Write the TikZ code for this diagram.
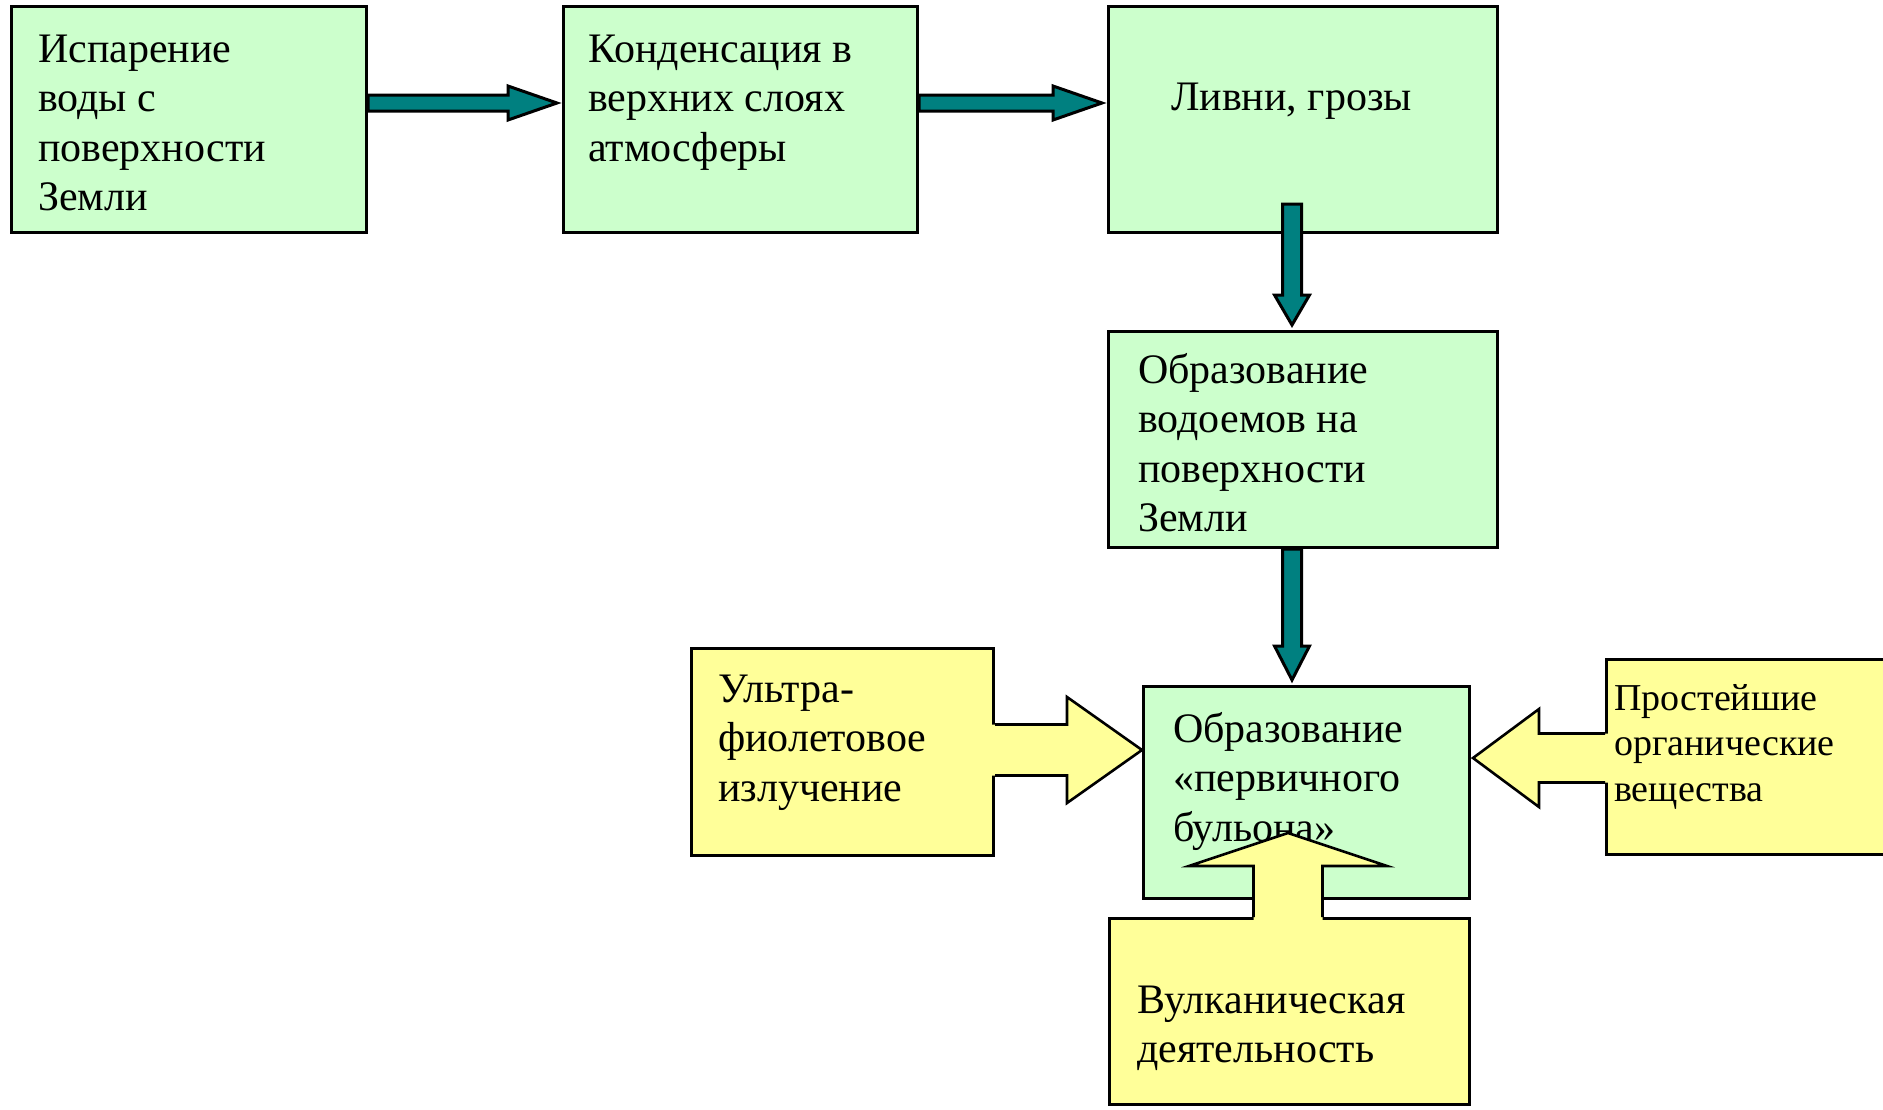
\documentclass[tikz,border=0pt]{standalone}
\usepackage{fontspec}
\setmainfont{Liberation Serif}
\usetikzlibrary{calc}
\definecolor{gfill}{HTML}{CCFFCC}
\definecolor{yfill}{HTML}{FFFF99}
\definecolor{tealc}{HTML}{008080}
\tikzset{
  gbox/.style={draw=black, line width=3pt, fill=gfill, rectangle, inner sep=0pt, anchor=north west},
  ybox/.style={draw=black, line width=3pt, fill=yfill, rectangle, inner sep=0pt, anchor=north west},
  txt/.style={inner sep=0pt, anchor=base west, align=left, font=\fontsize{42}{49.5}\selectfont},
  stxt/.style={inner sep=0pt, anchor=base west, align=left, font=\fontsize{38}{45.5}\selectfont},
  tarrow/.style={draw=black, line width=3pt, fill=tealc, line join=miter},
  yfillst/.style={fill=yfill},
  yline/.style={draw=black, line width=2.6pt, line join=miter},
}
\newcommand\tealH[2]{%
  \draw[tarrow] ($(#1)+(0,-8)$) -- ($(#2)+(-49,-8)$) -- ($(#2)+(-49,-17)$) -- (#2)
    -- ($(#2)+(-49,17)$) -- ($(#2)+(-49,8)$) -- ($(#1)+(0,8)$) -- cycle;}
\newcommand\tealV[3]{%
  \draw[tarrow] ($(#1)+(-9.5,0)$) -- ($(#2)+(-9.5,-#3)$) -- ($(#2)+(-17.5,-#3)$) -- (#2)
    -- ($(#2)+(17.5,-#3)$) -- ($(#2)+(9.5,-#3)$) -- ($(#1)+(9.5,0)$) -- cycle;}
\begin{document}
\begin{tikzpicture}[x=1pt,y=-1pt]
\useasboundingbox (0,0) rectangle (1883,1109);
\fill[white] (0,0) rectangle (1883,1109);

% green boxes
\node[gbox, minimum width=355pt, minimum height=226pt] (b1) at (10,5) {};
\node[gbox, minimum width=354pt, minimum height=226pt] (b2) at (562,5) {};
\node[gbox, minimum width=389pt, minimum height=226pt] (b3) at (1107,5) {};
\node[gbox, minimum width=389pt, minimum height=216pt] (b4) at (1107,330) {};
\node[gbox, minimum width=326pt, minimum height=212pt] (b5) at (1142,685) {};

% texts in green boxes (anchor = baseline of last line)
\node[txt] (t1) at (38,210.5) {Испарение\\воды с\\поверхности\\Земли};
\node[txt] (t2) at (588,161) {Конденсация в\\верхних слоях\\атмосферы};
\node[txt] (t3) at (1171,110) {Ливни, грозы};
\node[txt] (t4) at (1138,531.5) {Образование\\водоемов на\\поверхности\\Земли};
\node[txt] (t5) at (1173,841) {Образование\\«первичного\\бульона»};

% teal arrows
\coordinate (cx) at (1292,0);
\coordinate (a1s) at (b1.east |- 0,103);
\coordinate (a1e) at ($(b2.west |- 0,103)+(-5,0)$);
\coordinate (a2s) at (b2.east |- 0,103);
\coordinate (a2e) at ($(b3.west |- 0,103)+(-5,0)$);
\coordinate (d1s) at ($(b3.south -| cx)+(0,-30)$);
\coordinate (d1e) at ($(b4.north -| cx)+(0,-5)$);
\coordinate (d2s) at (b4.south -| cx);
\coordinate (d2e) at ($(b5.north -| cx)+(0,-5)$);
\tealH{a1s}{a1e}
\tealH{a2s}{a2e}
\tealV{d1s}{d1e}{30}
\tealV{d2s}{d2e}{34}

% yellow boxes
\node[ybox, minimum width=302pt, minimum height=207pt] (yl) at (690,647) {};
\node[ybox, minimum width=300pt, minimum height=195pt] (yr) at (1605,658) {};
\node[ybox, minimum width=360pt, minimum height=186pt] (yb) at (1108,917) {};

\node[txt] (t6) at (718,801) {Ультра-\\фиолетовое\\излучение};
\node[stxt] (t7) at (1614,801) {Простейшие\\органические\\вещества};
\node[txt] (t8) at (1137,1062.5) {Вулканическая\\деятельность};

% yellow block arrows
\coordinate (ls) at (yl.east |- 0,750);
\coordinate (le) at (b5.west |- 0,750);
\fill[yfillst] ($(ls)+(-3,-25.5)$) -- ($(le)+(-75,-25.5)$) -- ($(le)+(-75,-53)$) -- (le)
  -- ($(le)+(-75,53)$) -- ($(le)+(-75,25.5)$) -- ($(ls)+(-3,25.5)$) -- cycle;
\draw[yline] ($(ls)+(0,-25.5)$) -- ($(le)+(-75,-25.5)$) -- ($(le)+(-75,-53)$) -- (le)
  -- ($(le)+(-75,53)$) -- ($(le)+(-75,25.5)$) -- ($(ls)+(0,25.5)$);

\coordinate (rs) at (yr.west |- 0,758);
\coordinate (re) at ($(b5.east |- 0,758)+(2,0)$);
\fill[yfillst] ($(rs)+(3,-24.5)$) -- ($(re)+(66,-24.5)$) -- ($(re)+(66,-49)$) -- (re)
  -- ($(re)+(66,49)$) -- ($(re)+(66,24.5)$) -- ($(rs)+(3,24.5)$) -- cycle;
\draw[yline] ($(rs)+(0,-24.5)$) -- ($(re)+(66,-24.5)$) -- ($(re)+(66,-49)$) -- (re)
  -- ($(re)+(66,49)$) -- ($(re)+(66,24.5)$) -- ($(rs)+(0,24.5)$);

\coordinate (us) at (yb.north -| 1288,0);
\coordinate (ue) at (1288,833);
\fill[yfillst] ($(us)+(-34.5,3)$) -- ($(ue)+(-34.5,33)$) -- ($(ue)+(-99,33)$) -- (ue)
  -- ($(ue)+(99,33)$) -- ($(ue)+(34.5,33)$) -- ($(us)+(34.5,3)$) -- cycle;
\draw[yline] ($(us)+(-34.5,0)$) -- ($(ue)+(-34.5,33)$) -- ($(ue)+(-99,33)$) -- (ue)
  -- ($(ue)+(99,33)$) -- ($(ue)+(34.5,33)$) -- ($(us)+(34.5,0)$);
\end{tikzpicture}
\end{document}
